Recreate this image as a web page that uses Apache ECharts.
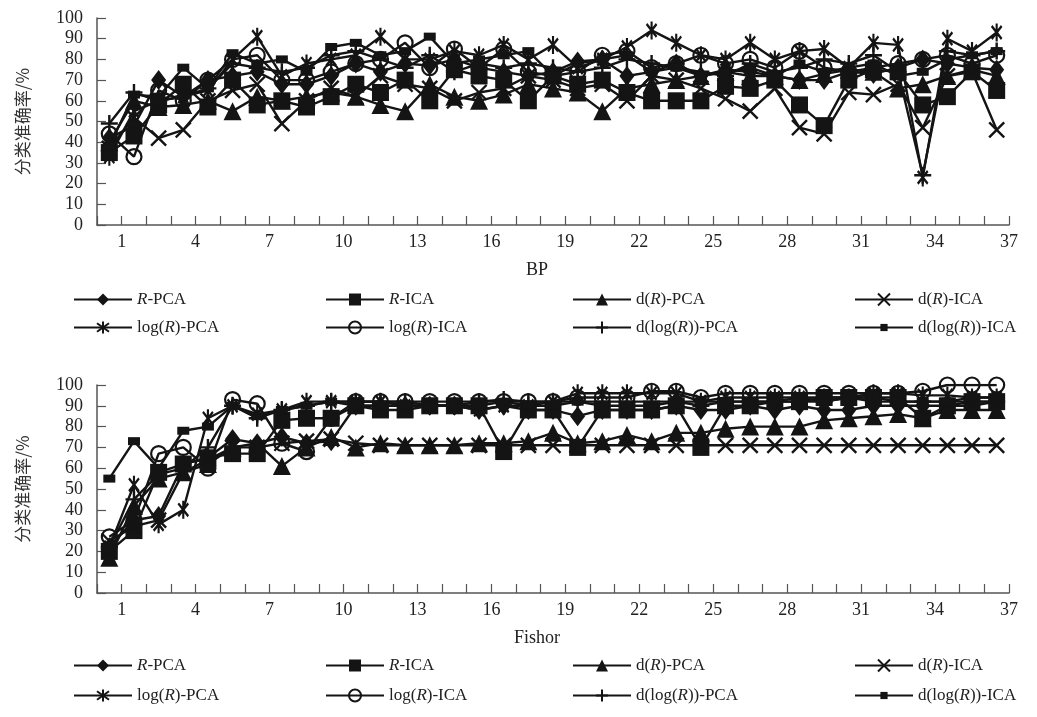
<!DOCTYPE html>
<html>
<head>
<meta charset="utf-8">
<title>BP / Fishor 分类准确率</title>
<script src="https://cdn.jsdelivr.net/npm/echarts@6/dist/echarts.min.js"></script>
<style>
  html, body { margin: 0; padding: 0; background: #fff; }
  #chart { width: 1037px; height: 717px; }
</style>
</head>
<body>
<div id="chart"></div>
<script>
// 序号 1..37
const seriesNames = ['R-PCA', 'R-ICA', 'd(R)-PCA', 'd(R)-ICA', 'log(R)-PCA', 'log(R)-ICA', 'd(log(R))-PCA', 'd(log(R))-ICA'];
const xTickLabels = [1, 4, 7, 10, 13, 16, 19, 22, 25, 28, 31, 34, 37];

// BP
const bpRPCA = [42, 48, 70, 62, 70, 72, 74, 68, 68, 72, 78, 74, 78, 77, 80, 76, 74, 72, 74, 79, 80, 72, 74, 78, 72, 75, 74, 72, 70, 70, 74, 73, 76, 80, 78, 76, 75];
const bpRICA = [35, 43, 58, 68, 57, 70, 58, 60, 57, 62, 68, 64, 70, 60, 75, 72, 70, 60, 72, 68, 70, 64, 60, 60, 60, 67, 66, 70, 58, 48, 70, 75, 74, 58, 62, 74, 65];
const bpDRPCA = [40, 60, 57, 58, 60, 55, 62, 60, 62, 64, 62, 58, 55, 68, 62, 60, 63, 68, 66, 64, 55, 66, 68, 70, 72, 74, 72, 72, 70, 73, 75, 74, 66, 68, 72, 75, 72];
const bpDRICA = [37, 52, 42, 46, 60, 65, 68, 49, 60, 66, 62, 72, 68, 66, 60, 64, 66, 72, 70, 66, 68, 60, 72, 70, 66, 61, 55, 66, 47, 44, 64, 63, 68, 47, 72, 74, 46];
const bpLogPCA = [33, 55, 60, 62, 65, 80, 91, 72, 78, 80, 82, 91, 80, 80, 84, 82, 87, 80, 87, 76, 80, 86, 94, 88, 82, 80, 88, 80, 84, 85, 76, 88, 87, 23, 90, 84, 93];
const bpLogICA = [44, 33, 65, 60, 70, 80, 82, 70, 70, 74, 78, 80, 88, 76, 85, 76, 85, 74, 72, 74, 82, 84, 76, 78, 82, 78, 80, 76, 84, 76, 74, 76, 78, 80, 82, 78, 82];
const bpDLogPCA = [49, 64, 60, 62, 66, 78, 76, 74, 76, 82, 84, 80, 76, 82, 74, 78, 76, 78, 76, 74, 76, 80, 78, 76, 74, 72, 78, 74, 76, 80, 78, 82, 74, 24, 84, 82, 84];
const bpDLogICA = [38, 63, 62, 76, 66, 83, 78, 80, 74, 86, 88, 82, 84, 91, 78, 80, 82, 84, 72, 78, 80, 82, 74, 76, 72, 74, 76, 72, 78, 74, 76, 78, 72, 74, 80, 82, 84];

// Fishor
const fsRPCA = [22, 35, 37, 62, 65, 74, 72, 75, 72, 73, 90, 90, 90, 90, 90, 88, 90, 88, 88, 85, 88, 88, 88, 90, 88, 88, 90, 88, 90, 88, 88, 90, 90, 90, 90, 90, 92];
const fsRICA = [20, 30, 58, 62, 65, 67, 67, 83, 84, 84, 90, 88, 88, 90, 90, 90, 68, 88, 88, 70, 88, 88, 88, 90, 70, 90, 90, 92, 92, 94, 94, 94, 94, 84, 90, 92, 92];
const fsDRPCA = [17, 42, 55, 58, 62, 70, 72, 61, 70, 75, 70, 72, 71, 71, 71, 72, 72, 73, 77, 72, 73, 76, 73, 77, 77, 79, 80, 80, 80, 83, 84, 85, 86, 84, 88, 88, 88];
const fsDRICA = [25, 32, 35, 58, 64, 70, 70, 72, 73, 74, 72, 71, 71, 71, 71, 71, 71, 71, 71, 71, 71, 71, 71, 71, 71, 71, 71, 71, 71, 71, 71, 71, 71, 71, 71, 71, 71];
const fsLogPCA = [22, 52, 33, 40, 84, 90, 86, 88, 92, 92, 92, 92, 90, 90, 90, 88, 90, 90, 92, 96, 96, 96, 96, 96, 92, 94, 94, 94, 94, 94, 94, 96, 96, 95, 95, 94, 94];
const fsLogICA = [27, 35, 67, 70, 60, 93, 91, 72, 68, 84, 92, 92, 92, 92, 92, 92, 92, 92, 92, 94, 94, 94, 97, 97, 94, 96, 96, 96, 96, 96, 96, 96, 96, 97, 100, 100, 100];
const fsDLogPCA = [22, 45, 57, 60, 70, 90, 84, 88, 90, 92, 92, 92, 92, 90, 90, 92, 93, 92, 92, 92, 92, 92, 92, 92, 90, 92, 92, 92, 92, 92, 94, 92, 92, 92, 92, 92, 92];
const fsDLogICA = [55, 73, 60, 78, 80, 90, 85, 88, 90, 92, 90, 90, 90, 90, 90, 90, 92, 90, 90, 92, 90, 90, 90, 92, 92, 92, 92, 92, 94, 92, 94, 94, 92, 92, 92, 94, 94];

const bpData = [bpRPCA, bpRICA, bpDRPCA, bpDRICA, bpLogPCA, bpLogICA, bpDLogPCA, bpDLogICA];
const fsData = [fsRPCA, fsRICA, fsDRPCA, fsDRICA, fsLogPCA, fsLogICA, fsDLogPCA, fsDLogICA];

const INK = '#141414';
const AXIS = '#555';
const SERIF = '"Liberation Serif", "Times New Roman", serif';
const CJK = '"Noto Sans CJK SC", sans-serif';

// 每个系列的标记
const markers = [
    { symbol: 'diamond', size: [15, 20] },
    { symbol: 'rect', size: 17 },
    { symbol: 'triangle', size: 18 },
    { symbol: 'path://M0,0L10,10M10,0L0,10', size: 15, stroke: true },
    { symbol: 'path://M0,0L10,10M10,0L0,10M5,-2L5,12', size: [14, 18], stroke: true },
    { symbol: 'circle', size: 15, hollow: true },
    { symbol: 'path://M5,0L5,10M0,5L10,5', size: 17, stroke: true },
    { symbol: 'rect', size: [12, 8] }
];

function itemStyleOf(m) {
    if (m.hollow) return { color: 'rgba(255,255,255,0)', borderColor: INK, borderWidth: 2.2 };
    if (m.stroke) return { color: INK, borderColor: INK, borderWidth: 2.4 };
    return { color: INK, borderWidth: 0 };
}

function makeSeries(list, idx) {
    return list.map((vals, k) => ({
        name: seriesNames[k],
        type: 'line',
        xAxisIndex: idx,
        yAxisIndex: idx,
        data: vals.map((v, i) => [i + 0.5, v]),
        symbol: markers[k].symbol,
        symbolSize: markers[k].size,
        symbolKeepAspect: true,
        showAllSymbol: true,
        lineStyle: { color: INK, width: 2.4 },
        itemStyle: itemStyleOf(markers[k]),
        emphasis: { disabled: true }
    }));
}

function italicR(name) {
    return name.replace(/R/g, '{i|R}');
}

const legendCols = [73, 325, 572, 854];
function makeLegends(rowTops) {
    return seriesNames.map((name, k) => ({
        data: [name],
        left: legendCols[k % 4],
        top: rowTops[Math.floor(k / 4)],
        padding: 0,
        itemWidth: 58,
        itemHeight: k === 7 ? 9 : 15,
        selectedMode: false,
        formatter: italicR,
        textStyle: {
            fontFamily: SERIF, fontSize: 17, color: '#222',
            rich: { i: { fontFamily: SERIF, fontSize: 17, fontStyle: 'italic', color: '#222' } }
        }
    }));
}

function makeXAxis(idx, name) {
    return {
        type: 'value', gridIndex: idx, min: 0, max: 37, interval: 1,
        name: name, nameLocation: 'middle', nameGap: 36,
        nameTextStyle: { fontFamily: SERIF, fontSize: 18, color: '#222', padding: [0, 32, 0, 0] },
        axisLine: { show: true, lineStyle: { color: AXIS, width: 1.5 } },
        axisTick: { show: true, inside: true, length: 9, lineStyle: { color: AXIS, width: 1.2 } },
        axisLabel: {
            fontFamily: SERIF, fontSize: 18, color: '#222', margin: 8,
            formatter: v => (xTickLabels.indexOf(v) >= 0 ? String(v) : '')
        },
        splitLine: { show: false }
    };
}

function makeYAxis(idx) {
    return {
        type: 'value', gridIndex: idx, min: 0, max: 100, interval: 10,
        name: '分类准确率/%', nameLocation: 'middle', nameGap: 66,
        nameTextStyle: { fontFamily: CJK, fontSize: 17, color: '#333' },
        axisLine: { show: true, lineStyle: { color: AXIS, width: 1.5 } },
        axisTick: { show: true, inside: true, length: 9, lineStyle: { color: AXIS, width: 1.2 } },
        axisLabel: { fontFamily: SERIF, fontSize: 18, color: '#222', margin: 14 },
        splitLine: { show: false }
    };
}

const chart = echarts.init(document.getElementById('chart'), null, { renderer: 'canvas' });
chart.setOption({
    animation: false,
    backgroundColor: '#fff',
    grid: [
        { left: 97, top: 18, width: 912, height: 207 },
        { left: 97, top: 385, width: 912, height: 208 }
    ],
    legend: makeLegends([291, 319]).concat(makeLegends([657, 687])),
    xAxis: [makeXAxis(0, 'BP'), makeXAxis(1, 'Fishor')],
    yAxis: [makeYAxis(0), makeYAxis(1)],
    series: makeSeries(bpData, 0).concat(makeSeries(fsData, 1))
});
</script>
</body>
</html>
